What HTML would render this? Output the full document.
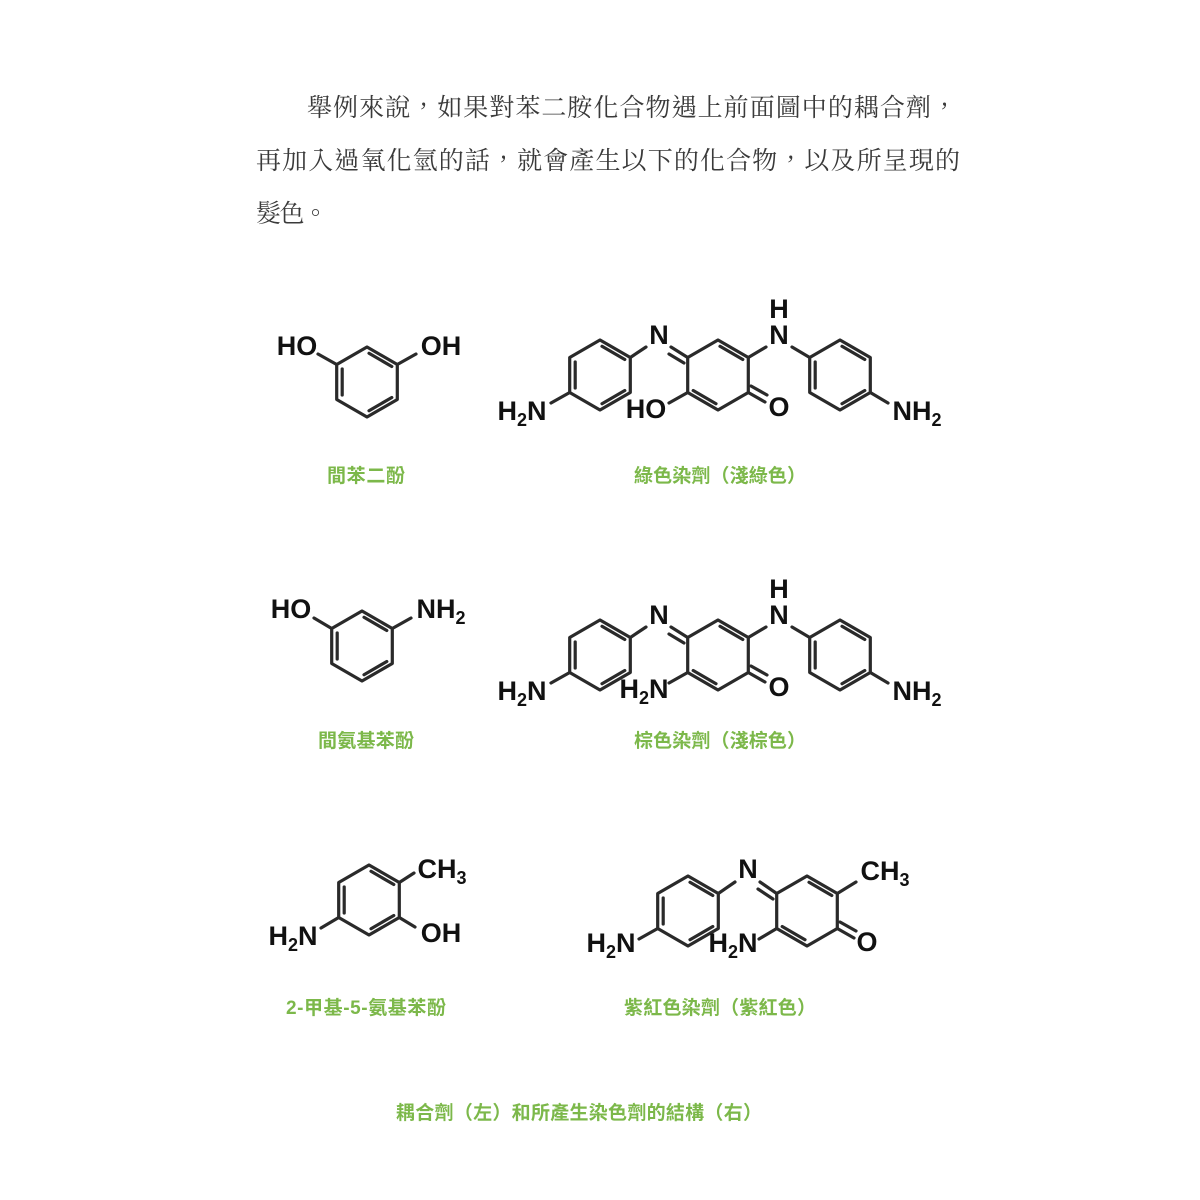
<!DOCTYPE html>
<html><head><meta charset="utf-8">
<style>
html,body{margin:0;padding:0;background:#fff;}
svg{display:block;}
.p{font-family:"Liberation Serif","Noto Serif CJK TC","Noto Serif CJK SC",serif;font-size:25px;fill:#3a3a3a;}
.g{font-family:"Liberation Sans","Noto Sans CJK TC",sans-serif;font-size:19px;font-weight:bold;fill:#7cb84a;text-anchor:middle;}
.a{font-family:"Liberation Sans",sans-serif;font-size:27px;font-weight:bold;fill:#111;text-anchor:middle;}
.s{font-size:18px;}
.b{stroke:#2a2a2a;stroke-width:3.2;fill:none;stroke-linecap:round;stroke-linejoin:round;}
</style></head>
<body>
<svg width="1200" height="1200" viewBox="0 0 1200 1200" xmlns="http://www.w3.org/2000/svg">
<defs>
<g id="ring">
<polygon class="b" points="0,-35 30.3,-17.5 30.3,17.5 0,35 -30.3,17.5 -30.3,-17.5"/>
<line class="b" x1="2" y1="-28.7" x2="24.8" y2="-15.5"/>
<line class="b" x1="24.8" y1="15.5" x2="2" y2="28.7"/>
<line class="b" x1="-24.8" y1="13" x2="-24.8" y2="-13"/>
</g>
<g id="quin">
<polygon class="b" points="0,-35 30.3,-17.5 30.3,17.5 0,35 -30.3,17.5 -30.3,-17.5"/>
<line class="b" x1="2" y1="-28.7" x2="24.8" y2="-15.5"/>
<line class="b" x1="-24.8" y1="15.5" x2="-2" y2="28.7"/>
</g>
</defs>

<text class="p" x="307" y="116" textLength="650" lengthAdjust="spacing">舉例來說，如果對苯二胺化合物遇上前面圖中的耦合劑，</text>
<text class="p" x="256" y="169" textLength="704" lengthAdjust="spacing">再加入過氧化氫的話，就會產生以下的化合物，以及所呈現的</text>
<text class="p" x="256" y="222" textLength="72" lengthAdjust="spacing">髮色。</text>

<!-- Row 1 -->
<use href="#ring" x="367" y="382"/>
<line class="b" x1="336.7" y1="364.5" x2="318" y2="354"/>
<line class="b" x1="397.3" y1="364.5" x2="416" y2="354"/>
<text class="a" x="297" y="355">HO</text>
<text class="a" x="441" y="355">OH</text>

<use href="#ring" x="600" y="375"/>
<use href="#quin" x="718" y="375"/>
<use href="#ring" x="840" y="375"/>
<line class="b" x1="569.7" y1="392.5" x2="551" y2="403"/>
<line class="b" x1="630.3" y1="357.5" x2="646" y2="347"/>
<line class="b" x1="671" y1="347" x2="687.7" y2="357.5"/>
<line class="b" x1="669" y1="354" x2="684" y2="363"/>
<line class="b" x1="748.3" y1="357.5" x2="766" y2="347"/>
<line class="b" x1="792" y1="347" x2="809.7" y2="357.5"/>
<line class="b" x1="687.7" y1="392.5" x2="669" y2="403"/>
<line class="b" x1="748.3" y1="392.5" x2="765" y2="402"/>
<line class="b" x1="751" y1="386" x2="767" y2="395"/>
<line class="b" x1="870.3" y1="392.5" x2="888" y2="403"/>
<text class="a" x="522" y="420">H<tspan class="s" dy="6">2</tspan><tspan dy="-6">N</tspan></text>
<text class="a" x="659" y="344">N</text>
<text class="a" x="646" y="418">HO</text>
<text class="a" x="779" y="416">O</text>
<text class="a" x="779" y="344">N</text>
<text class="a" x="779" y="318">H</text>
<text class="a" x="917" y="420">NH<tspan class="s" dy="6">2</tspan></text>
<text class="g" x="366" y="482" textLength="78">間苯二酚</text>
<text class="g" x="720" y="482" textLength="172">綠色染劑（淺綠色）</text>

<!-- Row 2 -->
<use href="#ring" x="362" y="646"/>
<line class="b" x1="331.7" y1="628.5" x2="314" y2="618"/>
<line class="b" x1="392.3" y1="628.5" x2="411" y2="618"/>
<text class="a" x="291" y="618">HO</text>
<text class="a" x="441" y="618">NH<tspan class="s" dy="6">2</tspan></text>

<use href="#ring" x="600" y="655"/>
<use href="#quin" x="718" y="655"/>
<use href="#ring" x="840" y="655"/>
<line class="b" x1="569.7" y1="672.5" x2="551" y2="683"/>
<line class="b" x1="630.3" y1="637.5" x2="646" y2="627"/>
<line class="b" x1="671" y1="627" x2="687.7" y2="637.5"/>
<line class="b" x1="669" y1="634" x2="684" y2="643"/>
<line class="b" x1="748.3" y1="637.5" x2="766" y2="627"/>
<line class="b" x1="792" y1="627" x2="809.7" y2="637.5"/>
<line class="b" x1="687.7" y1="672.5" x2="669" y2="683"/>
<line class="b" x1="748.3" y1="672.5" x2="765" y2="682"/>
<line class="b" x1="751" y1="666" x2="767" y2="675"/>
<line class="b" x1="870.3" y1="672.5" x2="888" y2="683"/>
<text class="a" x="522" y="700">H<tspan class="s" dy="6">2</tspan><tspan dy="-6">N</tspan></text>
<text class="a" x="659" y="624">N</text>
<text class="a" x="644" y="698">H<tspan class="s" dy="6">2</tspan><tspan dy="-6">N</tspan></text>
<text class="a" x="779" y="696">O</text>
<text class="a" x="779" y="624">N</text>
<text class="a" x="779" y="598">H</text>
<text class="a" x="917" y="700">NH<tspan class="s" dy="6">2</tspan></text>
<text class="g" x="366" y="747" textLength="96">間氨基苯酚</text>
<text class="g" x="720" y="747" textLength="172">棕色染劑（淺棕色）</text>

<!-- Row 3 -->
<use href="#ring" x="369" y="900"/>
<line class="b" x1="399.3" y1="882.5" x2="414" y2="873"/>
<line class="b" x1="399.3" y1="917.5" x2="415" y2="927"/>
<line class="b" x1="338.7" y1="917.5" x2="321" y2="928"/>
<text class="a" x="442" y="878">CH<tspan class="s" dy="6">3</tspan></text>
<text class="a" x="441" y="942">OH</text>
<text class="a" x="293" y="945">H<tspan class="s" dy="6">2</tspan><tspan dy="-6">N</tspan></text>

<use href="#ring" x="688" y="911"/>
<use href="#quin" x="807" y="911"/>
<line class="b" x1="657.7" y1="928.5" x2="639" y2="939"/>
<line class="b" x1="718.3" y1="893.5" x2="735" y2="882"/>
<line class="b" x1="760" y1="882" x2="776.7" y2="893.5"/>
<line class="b" x1="758" y1="889" x2="773" y2="899"/>
<line class="b" x1="837.3" y1="893.5" x2="856" y2="882"/>
<line class="b" x1="776.7" y1="928.5" x2="759" y2="939"/>
<line class="b" x1="837.3" y1="928.5" x2="854" y2="938"/>
<line class="b" x1="840" y1="922" x2="856" y2="931"/>
<text class="a" x="611" y="952">H<tspan class="s" dy="6">2</tspan><tspan dy="-6">N</tspan></text>
<text class="a" x="748" y="878">N</text>
<text class="a" x="733" y="952">H<tspan class="s" dy="6">2</tspan><tspan dy="-6">N</tspan></text>
<text class="a" x="867" y="951">O</text>
<text class="a" x="885" y="880">CH<tspan class="s" dy="6">3</tspan></text>
<text class="g" x="366" y="1014" textLength="160">2-甲基-5-氨基苯酚</text>
<text class="g" x="720" y="1014" textLength="192">紫紅色染劑（紫紅色）</text>

<text class="g" x="579" y="1119" textLength="366">耦合劑（左）和所產生染色劑的結構（右）</text>
</svg>
</body></html>
